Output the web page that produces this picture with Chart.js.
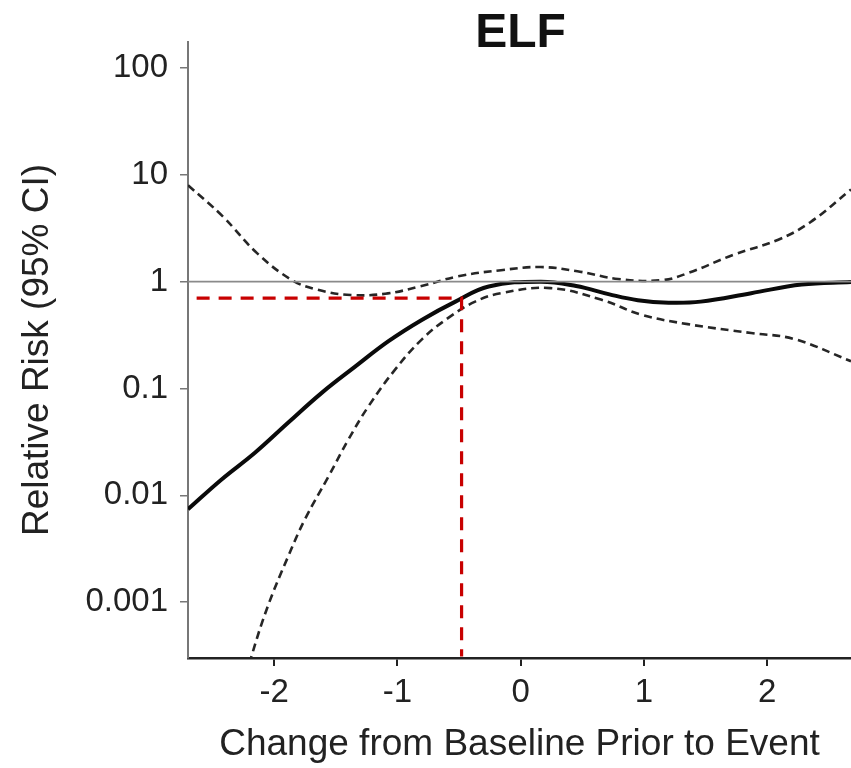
<!DOCTYPE html>
<html>
<head>
<meta charset="utf-8">
<script src="https://cdn.jsdelivr.net/npm/chart.js@4/dist/chart.umd.min.js"></script>
<style>
  html, body { margin: 0; padding: 0; background: #fff; }
  #wrap { width: 851px; height: 768px; }
</style>
</head>
<body>
<div id="wrap"><canvas id="myChart" width="851" height="768"></canvas></div>
<script>
// change from baseline (x) and relative risk (y)
const riskX = [-2.7, -2.43, -2.157, -1.886, -1.615, -1.344, -1.073, -0.8, -0.53, -0.26, 0.16, 0.45, 0.72, 0.95, 1.2, 1.46, 1.87, 2.28, 2.68];
const riskY = [0.0074, 0.014, 0.025, 0.048, 0.091, 0.16, 0.277, 0.44, 0.65, 0.9, 1.0, 0.91, 0.76, 0.67, 0.635, 0.65, 0.78, 0.94, 0.99];

const upperX = [-2.7, -2.42, -2.14, -1.86, -1.65, -1.38, -1.1, -0.82, -0.51, -0.16, 0.16, 0.46, 0.79, 1.14, 1.355, 1.73, 2.09, 2.35, 2.68];
const upperY = [8, 4.1, 1.85, 1.04, 0.84, 0.75, 0.77, 0.9, 1.12, 1.28, 1.37, 1.25, 1.06, 1.03, 1.2, 1.79, 2.47, 3.6, 7.3];

const lowerX = [-2.4, -2.185, -2.05, -1.886, -1.75, -1.56, -1.4, -1.236, -1.02, -0.8, -0.585, -0.37, -0.16, 0.24, 0.65, 0.98, 1.355, 1.87, 2.22, 2.68];
const lowerY = [0.00004, 0.00031, 0.00093, 0.0027, 0.006, 0.015, 0.033, 0.068, 0.15, 0.29, 0.46, 0.65, 0.78, 0.87, 0.68, 0.49, 0.4, 0.33, 0.29, 0.18];

// reference threshold
const cutX = -0.48;
const cutY = 0.7;

const xTicks = [-2, -1, 0, 1, 2];
const yTicks = [0.001, 0.01, 0.1, 1, 10, 100];
const xMin = -2.7, xMax = 2.68;
const yMin = 0.00031, yMax = 175;

const pts = (xs, ys) => xs.map((x, i) => ({ x: x, y: ys[i] }));

const titlePlugin = {
  id: 'panelTitle',
  afterDraw(chart) {
    const { ctx, chartArea } = chart;
    ctx.save();
    ctx.font = 'bold 48px "Liberation Sans", Arial, sans-serif';
    ctx.fillStyle = '#111';
    ctx.textAlign = 'center';
    ctx.textBaseline = 'middle';
    ctx.fillText('ELF', (chartArea.left + chartArea.right) / 2 + 1, 34);
    ctx.restore();
  }
};

const tickFont = { family: '"Liberation Sans", Arial, sans-serif', size: 33 };
const titleFont = { family: '"Liberation Sans", Arial, sans-serif', size: 37 };

new Chart(document.getElementById('myChart'), {
  type: 'scatter',
  data: {
    datasets: [
      {
        data: pts([xMin, xMax], [1, 1]),
        showLine: true, borderColor: '#8a8a8a', borderWidth: 1.6, pointRadius: 0
      },
      {
        data: pts([-2.63, cutX, cutX], [cutY, cutY, yMin]),
        showLine: true, borderColor: '#c80000', borderWidth: 3.2, borderDash: [13, 9], pointRadius: 0
      },
      {
        data: pts(upperX, upperY),
        showLine: true, borderColor: '#262626', borderWidth: 2.6, borderDash: [8, 5],
        pointRadius: 0, tension: 0.4
      },
      {
        data: pts(lowerX, lowerY),
        showLine: true, borderColor: '#262626', borderWidth: 2.6, borderDash: [8, 5],
        pointRadius: 0, tension: 0.4
      },
      {
        data: pts(riskX, riskY),
        showLine: true, borderColor: '#0a0a0a', borderWidth: 4, pointRadius: 0,
        tension: 0.4
      }
    ]
  },
  options: {
    responsive: false,
    animation: false,
    layout: { padding: { top: 42, right: 0, bottom: 0, left: 0 } },
    plugins: { legend: { display: false }, tooltip: { enabled: false } },
    scales: {
      x: {
        type: 'linear', min: xMin, max: xMax,
        afterBuildTicks: s => { s.ticks = xTicks.map(v => ({ value: v })); },
        afterFit: s => { s.height = 110; },
        grid: { drawOnChartArea: false, tickLength: 8, color: '#222', lineWidth: 2 },
        border: { color: '#222', width: 2.5 },
        ticks: { font: tickFont, color: '#222', padding: 7, maxRotation: 0 },
        title: { display: true, text: 'Change from Baseline Prior to Event', font: titleFont, color: '#222', padding: { top: 0, bottom: 1 } }
      },
      y: {
        type: 'logarithmic', min: yMin, max: yMax,
        afterBuildTicks: s => { s.ticks = yTicks.map(v => ({ value: v })); },
        afterFit: s => { s.width = 188; },
        grid: { drawOnChartArea: false, tickLength: 8, color: '#777', lineWidth: 1.5 },
        border: { color: '#777', width: 2 },
        ticks: { font: tickFont, color: '#222', padding: 12, callback: v => String(v) },
        title: { display: true, text: 'Relative Risk (95% CI)', font: titleFont, color: '#222', padding: { top: 16, bottom: 0 } }
      }
    }
  },
  plugins: [titlePlugin]
});
</script>
</body>
</html>
